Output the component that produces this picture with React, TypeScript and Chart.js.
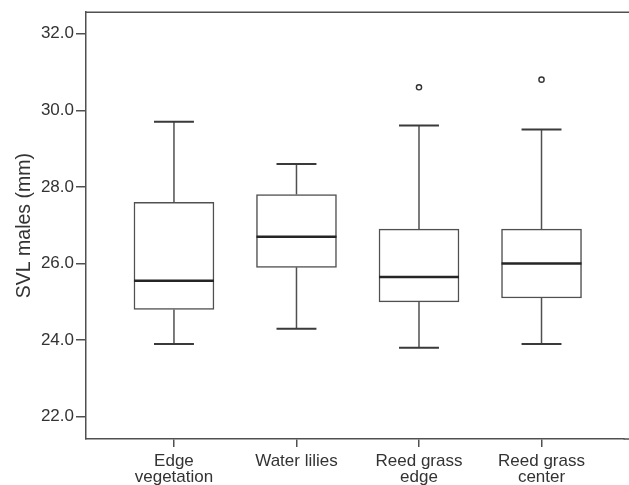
import React, { useEffect, useRef } from "react";
import { Chart, registerables } from "chart.js";

Chart.register(...registerables);

const categories: string[][] = [["Edge", "vegetation"], ["Water lilies"], ["Reed grass", "edge"], ["Reed grass", "center"]];
const whiskerLow = [23.9, 24.3, 23.8, 23.9];
const q1 = [24.8, 25.9, 25.0, 25.1];
const median = [25.55, 26.7, 25.65, 26.0];
const q3 = [27.6, 27.8, 26.9, 26.9];
const whiskerHigh = [29.7, 28.6, 29.6, 29.5];
const outlierCategory = [3, 4];
const outlierValue = [30.6, 30.8];
const yTicks = [22, 24, 26, 28, 30, 32];

const FONT = "'Liberation Sans', Arial, Helvetica, sans-serif";
const LINE = "#505050";
const TEXT = "#333333";

const boxPlotPlugin = {
  id: "boxPlotParts",
  afterDatasetsDraw(chart: any) {
    const { ctx, chartArea, scales } = chart;
    const xs = scales.x;
    const ys = scales.y;
    ctx.save();
    ctx.strokeStyle = LINE;
    ctx.lineWidth = 1.5;
    ctx.beginPath();
    ctx.moveTo(chartArea.left, chartArea.top);
    ctx.lineTo(chart.width, chartArea.top);
    ctx.moveTo(chartArea.right, chartArea.bottom);
    ctx.lineTo(chart.width, chartArea.bottom);
    ctx.stroke();
    const capHalf = 0.163;
    const boxHalf = 0.3265;
    for (let i = 0; i < categories.length; i++) {
      const c = i + 1;
      const x = xs.getPixelForValue(c);
      const xl = xs.getPixelForValue(c - capHalf);
      const xr = xs.getPixelForValue(c + capHalf);
      ctx.strokeStyle = LINE;
      ctx.lineWidth = 1.5;
      ctx.beginPath();
      ctx.moveTo(x, ys.getPixelForValue(q3[i]));
      ctx.lineTo(x, ys.getPixelForValue(whiskerHigh[i]));
      ctx.moveTo(x, ys.getPixelForValue(q1[i]));
      ctx.lineTo(x, ys.getPixelForValue(whiskerLow[i]));
      ctx.stroke();
      ctx.strokeStyle = "#3a3a3a";
      ctx.lineWidth = 2;
      ctx.beginPath();
      ctx.moveTo(xl, ys.getPixelForValue(whiskerHigh[i]));
      ctx.lineTo(xr, ys.getPixelForValue(whiskerHigh[i]));
      ctx.moveTo(xl, ys.getPixelForValue(whiskerLow[i]));
      ctx.lineTo(xr, ys.getPixelForValue(whiskerLow[i]));
      ctx.stroke();
      ctx.strokeStyle = "#252525";
      ctx.lineWidth = 2.6;
      ctx.beginPath();
      ctx.moveTo(xs.getPixelForValue(c - boxHalf), ys.getPixelForValue(median[i]));
      ctx.lineTo(xs.getPixelForValue(c + boxHalf), ys.getPixelForValue(median[i]));
      ctx.stroke();
    }
    ctx.restore();
  },
};

export default function App() {
  const ref = useRef<HTMLCanvasElement | null>(null);
  useEffect(() => {
    if (!ref.current) return;
    const chart = new Chart(ref.current, {
      type: "bar",
      data: {
        datasets: [
          {
            type: "bar",
            data: categories.map((_, i) => ({ x: i + 1, y: [q1[i], q3[i]] })) as any,
            backgroundColor: "#ffffff",
            borderColor: LINE,
            borderWidth: 1.5,
            borderSkipped: false,
            barThickness: 80,
          } as any,
          {
            type: "scatter",
            data: outlierCategory.map((c, i) => ({ x: c, y: outlierValue[i] })),
            pointRadius: 2.6,
            pointBorderWidth: 1.4,
            pointBackgroundColor: "#ffffff",
            pointBorderColor: "#333333",
          } as any,
        ],
      },
      options: {
        animation: false,
        responsive: false,
        maintainAspectRatio: false,
        layout: { padding: { top: 10, left: 0, right: 0, bottom: 0 } },
        plugins: { legend: { display: false }, tooltip: { enabled: false } },
        scales: {
          x: {
            type: "linear",
            offset: false,
            min: 0.282,
            max: 4.67,
            afterBuildTicks: (scale: any) => {
              scale.ticks = categories.map((_, i) => ({ value: i + 1 }));
            },
            afterFit: (scale: any) => {
              scale.height = 46;
            },
            ticks: {
              autoSkip: false,
              maxRotation: 0,
              padding: 6,
              color: TEXT,
              font: { family: FONT, size: 17, lineHeight: 0.95 },
              callback: (v: any) => {
                const idx = Math.round(Number(v)) - 1;
                return categories[idx] ?? "";
              },
            },
            grid: { offset: false, drawOnChartArea: false, drawTicks: true, tickLength: 8, color: LINE, lineWidth: 1.5 },
            border: { display: true, color: LINE, width: 1.5 },
          },
          y: {
            type: "linear",
            min: 21.42,
            max: 32.56,
            afterBuildTicks: (scale: any) => {
              scale.ticks = yTicks.map((v) => ({ value: v }));
            },
            afterFit: (scale: any) => {
              scale.width = 86;
            },
            ticks: {
              padding: 2,
              color: TEXT,
              font: { family: FONT, size: 17 },
              callback: (v: any) => Number(v).toFixed(1),
            },
            grid: { drawOnChartArea: false, drawTicks: true, tickLength: 10, color: LINE, lineWidth: 1.5 },
            border: { display: true, color: LINE, width: 1.5 },
            title: {
              display: true,
              text: "SVL males (mm)",
              color: TEXT,
              font: { family: FONT, size: 19.5, lineHeight: 1 },
              padding: { top: 15, bottom: 0 },
            },
          },
        },
      },
      plugins: [boxPlotPlugin],
    });
    return () => chart.destroy();
  }, []);
  return (
    <div style={{ position: "fixed", left: 0, top: 0, width: 629, height: 485, background: "#fff" }}>
      <canvas ref={ref} width={629} height={485} style={{ display: "block" }} />
    </div>
  );
}
